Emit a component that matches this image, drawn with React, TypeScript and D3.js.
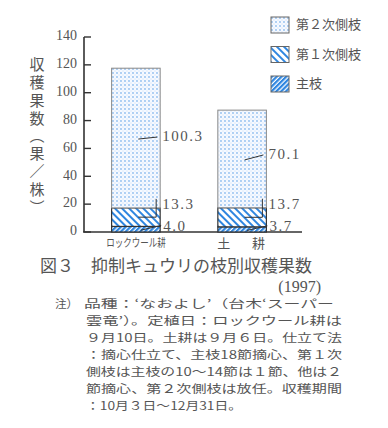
import * as d3 from "d3";

const categories = ["ロックウール耕", "土　耕"];
const seriesNames = ["主枝", "第１次側枝", "第２次側枝"];
const mainStem = [4.0, 3.7];
const firstLateral = [13.3, 13.7];
const secondLateral = [100.3, 70.1];
const yTicks = [0, 20, 40, 60, 80, 100, 120, 140];
const yTitle = "収穫果数（果／株）";
const noteLines = [
  "品種：‘なおよし’（台木‘スーパー",
  "雲竜’）。定植日：ロックウール耕は",
  "９月10日。土耕は９月６日。仕立て法",
  "：摘心仕立て、主枝18節摘心、第１次",
  "側枝は主枝の10〜14節は１節、他は２",
  "節摘心、第２次側枝は放任。収穫期間",
  "：10月３日〜12月31日。",
];

const W = 388;
const H = 428;
const TEXT = "#555";
const BLUE = "#2f86e0";
const SERIF = "'Liberation Serif', 'DejaVu Serif', serif";
const JP = "'Noto Sans CJK JP', sans-serif";

const fills = ["url(#pMain)", "url(#pFirst)", "url(#pSecond)"];

function App() {
  const y = d3.scaleLinear().domain([0, 140]).range([232, 37]);
  const x = d3
    .scaleBand()
    .domain(categories)
    .range([84, 294])
    .paddingInner(0.543)
    .paddingOuter(0.26);
  const bw = x.bandwidth();
  const fmt = d3.format(".1f");

  const stacked = categories.map((c, i) => {
    const vals = [mainStem[i], firstLateral[i], secondLateral[i]];
    let acc = 0;
    return vals.map((v) => {
      const seg = { c, y0: acc, y1: acc + v, v };
      acc += v;
      return seg;
    });
  });

  const cx0 = (x(categories[0]) ?? 0) + bw / 2;
  const cx1 = (x(categories[1]) ?? 0) + bw / 2;

  return (
    <svg
      width={W}
      height={H}
      style={{ position: "absolute", left: 0, top: 0, background: "#fff" }}
    >
      <defs>
        <pattern id="pSecond" width={4} height={4} patternUnits="userSpaceOnUse">
          <rect width={4} height={4} fill="#f6f9ff" />
          <circle cx={1} cy={1} r={0.65} fill={BLUE} />
          <circle cx={3} cy={3} r={0.45} fill="#8fbdf0" />
        </pattern>
        <pattern
          id="pFirst"
          width={5}
          height={5}
          patternUnits="userSpaceOnUse"
          patternTransform="rotate(45)"
        >
          <rect width={5} height={5} fill="#fff" />
          <rect x={0} y={0} width={5} height={2} fill={BLUE} />
        </pattern>
        <pattern
          id="pMain"
          width={3.4}
          height={3.4}
          patternUnits="userSpaceOnUse"
          patternTransform="rotate(-45)"
        >
          <rect width={3.4} height={3.4} fill="#fff" />
          <rect x={0} y={0} width={3.4} height={2.2} fill={BLUE} />
        </pattern>
      </defs>

      {/* y axis title, vertical */}
      <text
        x={37}
        y={57}
        writingMode="vertical-rl"
        fontFamily={JP}
        fontSize={15}
        letterSpacing={2.8}
        fill={TEXT}
      >
        {yTitle}
      </text>

      {/* axes */}
      <line x1={84} x2={84} y1={y(140)} y2={y(0)} stroke="#333" strokeWidth={1.6} />
      <line x1={83} x2={302} y1={y(0)} y2={y(0)} stroke="#333" strokeWidth={1.6} />
      {yTicks.map((t) => (
        <g key={t}>
          <line x1={84} x2={91} y1={y(t)} y2={y(t)} stroke="#333" strokeWidth={1.4} />
          <text
            x={77}
            y={y(t)}
            textAnchor="end"
            dominantBaseline="middle"
            fontFamily={SERIF}
            fontSize={14}
            fill={TEXT}
          >
            {t}
          </text>
        </g>
      ))}

      {/* bars */}
      {stacked.map((segs, i) =>
        segs.map((s, j) => (
          <rect
            key={`${i}-${j}`}
            x={x(s.c)}
            y={y(s.y1)}
            width={bw}
            height={y(s.y0) - y(s.y1)}
            fill={fills[j]}
            stroke={j === 2 ? "#888" : "#333"}
            strokeWidth={j === 2 ? 1 : 1.2}
          />
        ))
      )}

      {/* value labels with leaders */}
      {stacked.map((segs, i) => {
        const x0 = x(categories[i]) ?? 0;
        const xr = x0 + bw;
        const [m, f, s] = segs;
        const ySec = y((s.y0 + s.y1) / 2);
        const yFirstMid = y((f.y0 + f.y1) / 2);
        const ySecLabel = i === 0 ? ySec : ySec - 3;
        return (
          <g key={i} fontFamily={SERIF} fontSize={15} fill={TEXT} letterSpacing={1.5}>
            <line
              x1={x0 + bw * 0.55}
              y1={ySec + 1}
              x2={xr - 3}
              y2={ySecLabel - 1}
              stroke="#333"
              strokeWidth={1}
            />
            <text x={xr + 2} y={ySecLabel} dominantBaseline="middle">
              {fmt(s.v)}
            </text>
            <polyline
              points={`${xr - 4},${y(f.y1) - 9} ${xr - 4},${yFirstMid} ${x0 + bw * 0.55},${yFirstMid}`}
              fill="none"
              stroke="#333"
              strokeWidth={1}
            />
            <text x={xr + 2} y={y(f.y1) - 2} dominantBaseline="middle">
              {fmt(f.v)}
            </text>
            <line
              x1={x0 + bw * 0.6}
              y1={y(m.v / 2) + 1}
              x2={xr + 1}
              y2={y(m.v) - 1}
              stroke="#333"
              strokeWidth={1}
            />
            <text x={xr + 3} y={y(m.v) + 1} dominantBaseline="middle">
              {fmt(m.v)}
            </text>
          </g>
        );
      })}

      {/* category labels */}
      <text
        x={0}
        y={0}
        textAnchor="middle"
        dominantBaseline="middle"
        fontFamily={JP}
        fontSize={10}
        fill={TEXT}
        transform={`translate(${cx0},244) scale(0.85,1.15)`}
      >
        {categories[0]}
      </text>
      <text
        x={cx1}
        y={244}
        textAnchor="middle"
        dominantBaseline="middle"
        fontFamily={JP}
        fontSize={13}
        fill={TEXT}
        letterSpacing={2}
      >
        {categories[1].replace("　", "　 ")}
      </text>

      {/* legend */}
      {[2, 1, 0].map((k, i) => (
        <g key={k} transform={`translate(271, ${17 + i * 29.5})`}>
          <rect width={18} height={16} fill={fills[k]} stroke="#666" strokeWidth={1} />
          <text
            x={25}
            y={8.5}
            dominantBaseline="middle"
            fontFamily={JP}
            fontSize={13}
            fill={TEXT}
          >
            {seriesNames[k]}
          </text>
        </g>
      ))}

      {/* caption */}
      <text x={40} y={267} dominantBaseline="middle" fontFamily={JP} fontSize={17} fill={TEXT}>
        図３　抑制キュウリの枝別収穫果数
      </text>
      <text
        x={321}
        y={288}
        textAnchor="end"
        dominantBaseline="middle"
        fontFamily={SERIF}
        fontSize={16}
        fill={TEXT}
      >
        (1997)
      </text>

      {/* notes */}
      <text x={55} y={305} dominantBaseline="middle" fontFamily={JP} fontSize={11.6} fill={TEXT}>
        注）
      </text>
      {noteLines.map((line, i) => (
        <text
          key={i}
          x={i === 0 ? 84 : 86}
          y={305 + i * 17}
          dominantBaseline="middle"
          fontFamily={JP}
          fontSize={11.6}
          fill={TEXT}
          textLength={i === 6 ? 156 : i === 0 ? 250 : 256}
          lengthAdjust="spacingAndGlyphs"
        >
          {line}
        </text>
      ))}
    </svg>
  );
}

export default App;
